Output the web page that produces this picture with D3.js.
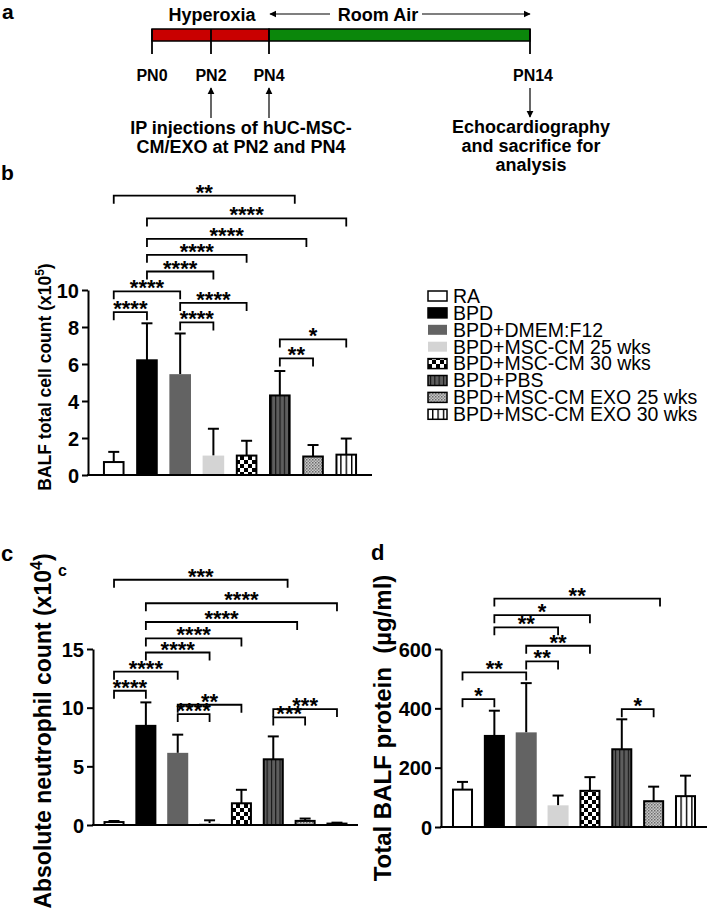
<!DOCTYPE html>
<html><head><meta charset="utf-8">
<script src="https://cdn.jsdelivr.net/npm/d3@7"></script>
<style>body{margin:0;background:#fff}svg{display:block}text{font-family:"Liberation Sans",Arial,sans-serif}</style>
</head><body><svg id="c" width="708" height="919"></svg>
<script>
// ---------- data ----------
const groups = ["RA","BPD","BPD+DMEM:F12","BPD+MSC-CM 25 wks","BPD+MSC-CM 30 wks","BPD+PBS","BPD+MSC-CM EXO 25 wks","BPD+MSC-CM EXO 30 wks"];
// panel b: BALF total cell count (x10^5)
const cellMean  = [0.7, 6.2, 5.45, 1.05, 1.05, 4.3, 1.0, 1.1];
const cellUpper = [1.25, 8.2, 7.65, 2.5, 1.85, 5.62, 1.62, 1.97];
const cellTicks = [0,2,4,6,8,10];
const cellSig = [[0,5.45,15.1,"**"],[1,7,13.87,"****"],[1,5.8,12.76,"****"],[1,4,11.9,"****"],[1,3,11.0,"****"],[0,2,9.93,"****"],[0,1,8.8,"****"],[2,4,9.3,"****"],[2,3,8.25,"****"],[5,7,7.33,"*"],[5,6,6.3,"**"]];
// panel c: absolute neutrophil count (x10^4)
const neutMean  = [0.25, 8.45, 6.15, 0.17, 1.85, 5.6, 0.35, 0.12];
const neutUpper = [0.34, 10.45, 7.7, 0.4, 3.0, 7.55, 0.55, 0.2];
const neutTicks = [0,5,10,15];
const neutSig = [[0,5.45,20.9,"***"],[1,7,18.9,"****"],[1,5.75,17.3,"****"],[1,4,15.9,"****"],[1,3,14.7,"****"],[0,2,13.07,"****"],[0,1,11.44,"****"],[2,4,10.25,"**"],[2,3,9.45,"****"],[5,7,9.88,"***"],[5,6,9.17,"***"]];
// panel d: total BALF protein (ug/ml)
const protMean  = [126, 307, 319, 73, 122, 262, 87, 104];
const protUpper = [152, 392, 485, 106, 168, 363, 136, 173];
const protTicks = [0,200,400,600];
const protSig = [[1,6.2,770,"**"],[1,4,714,"*"],[1,3,673,"**"],[2,4,611,"**"],[2,3,558,"**"],[0,2,521,"**"],[0,1,431,"*"],[5,6,397,"*"]];
// timeline
const tlDays = [0,2,4,14];
const tlLabels = ["PN0","PN2","PN4","PN14"];
const phaseStart = [0,4];
const phaseEnd = [4,14];
const phaseName = ["Hyperoxia","Room Air"];

// ---------- setup ----------
const svg = d3.select("#c");
const FONT = '"Liberation Sans",Arial,sans-serif';
const defs = svg.append("defs");
defs.append("marker").attr("id","ah").attr("viewBox","0 0 10 10").attr("refX",9).attr("refY",5)
  .attr("markerWidth",7).attr("markerHeight",8).attr("orient","auto-start-reverse").attr("markerUnits","userSpaceOnUse")
  .append("path").attr("d","M0,0L10,5L0,10Z").attr("fill","#000");
const pChk = defs.append("pattern").attr("id","chk").attr("width",8).attr("height",8).attr("patternUnits","userSpaceOnUse");
pChk.append("rect").attr("width",8).attr("height",8).attr("fill","#fff");
pChk.append("rect").attr("width",4).attr("height",4).attr("fill","#000");
pChk.append("rect").attr("x",4).attr("y",4).attr("width",4).attr("height",4).attr("fill","#000");
const pPbs = defs.append("pattern").attr("id","pbs").attr("width",4.3).attr("height",4).attr("patternUnits","userSpaceOnUse");
pPbs.append("rect").attr("width",4.3).attr("height",4).attr("fill","#5e5e5e");
pPbs.append("rect").attr("width",1.1).attr("height",4).attr("fill","#111");
const pDot = defs.append("pattern").attr("id","dot").attr("width",3).attr("height",3).attr("patternUnits","userSpaceOnUse");
pDot.append("rect").attr("width",3).attr("height",3).attr("fill","#c8c8c8");
pDot.append("rect").attr("width",1.5).attr("height",1.5).attr("fill","#6a6a6a");
pDot.append("rect").attr("x",1.5).attr("y",1.5).attr("width",1.5).attr("height",1.5).attr("fill","#8a8a8a");
const pStr = defs.append("pattern").attr("id","str").attr("width",5.4).attr("height",4).attr("patternUnits","userSpaceOnUse");
pStr.append("rect").attr("width",5.4).attr("height",4).attr("fill","#fff");
pStr.append("rect").attr("width",1.4).attr("height",4).attr("fill","#000");

const fills = ["#fff","#000","#636363","#d4d4d4","url(#chk)","url(#pbs)","url(#dot)","url(#str)"];
const strokes = ["#000","#000","none","none","#000","#000","#000","#000"];

function bracket(g, x, y, sig){
  const step = x.step(), c0 = x(groups[0]) + x.bandwidth()/2;
  sig.forEach(s=>{
    const x1 = c0 + s[0]*step, x2 = c0 + s[1]*step, yy = y(s[2]);
    g.append("path").attr("d",`M${x1},${yy+8}V${yy}H${x2}V${yy+8}`)
      .attr("fill","none").attr("stroke","#000").attr("stroke-width",1.8);
    g.append("text").attr("x",(x1+x2)/2).attr("y",yy+4).attr("text-anchor","middle")
      .attr("font-size",22).attr("font-weight","bold").text(s[3]);
  });
}

function panel(opts){
  const {range, yDomain, yRange, ticks, mean, upper, sig} = opts;
  const x = d3.scaleBand().domain(groups).range(range).paddingInner(opts.pi).paddingOuter(opts.po);
  const y = d3.scaleLinear().domain(yDomain).range(yRange);
  const g = svg.append("g");
  const bw = x.bandwidth();
  groups.forEach((k,i)=>{
    const cx = x(k)+bw/2;
    g.append("line").attr("x1",cx).attr("x2",cx).attr("y1",y(mean[i])).attr("y2",y(upper[i])).attr("stroke","#000").attr("stroke-width",2);
    g.append("line").attr("x1",cx-5.5).attr("x2",cx+5.5).attr("y1",y(upper[i])).attr("y2",y(upper[i])).attr("stroke","#000").attr("stroke-width",2);
  });
  g.selectAll("rect.bar").data(groups).join("rect").attr("class","bar")
    .attr("x",(d,i)=>x(d)+(strokes[i]==="none"?0:1)).attr("width",(d,i)=>bw-(strokes[i]==="none"?0:2))
    .attr("y",(d,i)=>y(mean[i])).attr("height",(d,i)=>y(0)-y(mean[i]))
    .attr("fill",(d,i)=>fills[i]).attr("stroke",(d,i)=>strokes[i]).attr("stroke-width",2);
  const ax = g.append("g").attr("transform",`translate(${range[0]},0)`)
    .call(d3.axisLeft(y).tickValues(ticks).tickSize(6).tickSizeOuter(0).tickPadding(3));
  ax.select(".domain").attr("stroke-width",2);
  ax.selectAll(".tick line").attr("stroke-width",2);
  ax.selectAll(".tick text").attr("font-size",20).attr("font-weight","bold").attr("font-family",FONT).attr("fill","#000").attr("dy","0.36em");
  g.append("line").attr("x1",range[0]-1).attr("x2",range[1]).attr("y1",y(0)).attr("y2",y(0)).attr("stroke","#000").attr("stroke-width",2);
  bracket(g, x, y, sig);
  return {x,y,g};
}

// ---------- panel a: timeline ----------
const tl = d3.scaleLinear().domain([0,2,4,14]).range([152,211,269,530]);
const ga = svg.append("g");
ga.append("text").attr("x",2).attr("y",19).attr("font-size",21).attr("font-weight","bold").text("a");
phaseStart.forEach((s,i)=>{
  ga.append("rect").attr("x",tl(s)).attr("y",29).attr("width",tl(phaseEnd[i])-tl(s)).attr("height",12)
    .attr("fill",i===0?"#c90000":"#0b870b").attr("stroke","#000").attr("stroke-width",1.5);
});
tlDays.forEach((d,i)=>{
  ga.append("line").attr("x1",tl(d)).attr("x2",tl(d)).attr("y1",29).attr("y2",54).attr("stroke","#000").attr("stroke-width",1.8);
  ga.append("text").attr("x",tl(d)+(i===3?3:0)).attr("y",81).attr("text-anchor","middle").attr("font-size",16).attr("font-weight","bold").text(tlLabels[i]);
});
ga.append("text").attr("x",212).attr("y",21).attr("text-anchor","middle").attr("font-size",18).attr("font-weight","bold").text(phaseName[0]);
ga.append("text").attr("x",378).attr("y",21).attr("text-anchor","middle").attr("font-size",18).attr("font-weight","bold").text(phaseName[1]);
ga.append("line").attr("x1",330).attr("x2",tl(4)+1).attr("y1",14).attr("y2",14).attr("stroke","#000").attr("stroke-width",1.2).attr("marker-end","url(#ah)");
ga.append("line").attr("x1",422).attr("x2",tl(14)).attr("y1",14).attr("y2",14).attr("stroke","#000").attr("stroke-width",1.2).attr("marker-end","url(#ah)");
[2,4].forEach(d=>{
  ga.append("line").attr("x1",tl(d)).attr("x2",tl(d)).attr("y1",118).attr("y2",88).attr("stroke","#000").attr("stroke-width",1.2).attr("marker-end","url(#ah)");
});
ga.append("line").attr("x1",tl(14)).attr("x2",tl(14)).attr("y1",88).attr("y2",117).attr("stroke","#000").attr("stroke-width",1.2).attr("marker-end","url(#ah)");
[["IP injections of hUC-MSC-",134],["CM/EXO at PN2 and PN4",153]].forEach(t=>{
  ga.append("text").attr("x",241).attr("y",t[1]).attr("text-anchor","middle").attr("font-size",18).attr("font-weight","bold").text(t[0]);
});
[["Echocardiography",133],["and sacrifice for",152],["analysis",171]].forEach(t=>{
  ga.append("text").attr("x",531).attr("y",t[1]).attr("text-anchor","middle").attr("font-size",18).attr("font-weight","bold").text(t[0]);
});

// ---------- panel b ----------
svg.append("text").attr("x",1).attr("y",180).attr("font-size",21).attr("font-weight","bold").text("b");
panel({range:[88,372], pi:0.35, po:0.45, yDomain:[0,10], yRange:[475,290], ticks:cellTicks, mean:cellMean, upper:cellUpper, sig:cellSig});
const lb = svg.append("text").attr("transform","translate(51,377) rotate(-90)").attr("text-anchor","middle").attr("font-size",17.5).attr("font-weight","bold");
lb.append("tspan").text("BALF total cell count (x10");
lb.append("tspan").attr("dy",-7).attr("font-size",12).text("5");
lb.append("tspan").attr("dy",7).text(")");

// legend
const lg = svg.append("g");
groups.forEach((k,i)=>{
  const cy = 296 + i*16.9;
  lg.append("rect").attr("x",428).attr("y",cy-5).attr("width",19).attr("height",10)
    .attr("fill",fills[i]).attr("stroke",strokes[i]).attr("stroke-width",1.5);
  lg.append("text").attr("x",453).attr("y",cy+6.8).attr("font-size",19.5).text(k);
});

// ---------- panel c ----------
svg.append("text").attr("x",1).attr("y",561).attr("font-size",22).attr("font-weight","bold").text("c");
svg.append("text").attr("x",58).attr("y",576).attr("font-size",16).attr("font-weight","bold").text("c");
panel({range:[93,358], pi:0.34, po:0.33, yDomain:[0,15], yRange:[825,649], ticks:neutTicks, mean:neutMean, upper:neutUpper, sig:neutSig});
const lc = svg.append("text").attr("transform","translate(51,731) rotate(-90)").attr("text-anchor","middle").attr("font-size",23).attr("font-weight","bold");
lc.append("tspan").text("Absolute neutrophil count (x10");
lc.append("tspan").attr("dy",-9).attr("font-size",16).text("4");
lc.append("tspan").attr("dy",9).text(")");

// ---------- panel d ----------
svg.append("text").attr("x",371).attr("y",560).attr("font-size",22).attr("font-weight","bold").text("d");
panel({range:[441,707], pi:0.34, po:0.345, yDomain:[0,600], yRange:[827,649], ticks:protTicks, mean:protMean, upper:protUpper, sig:protSig});
svg.append("text").attr("transform","translate(391,728) rotate(-90)").attr("text-anchor","middle").attr("font-size",24).attr("font-weight","bold")
  .attr("xml:space","preserve").text("Total BALF protein  (\u00b5g/ml)");
</script></body></html>
